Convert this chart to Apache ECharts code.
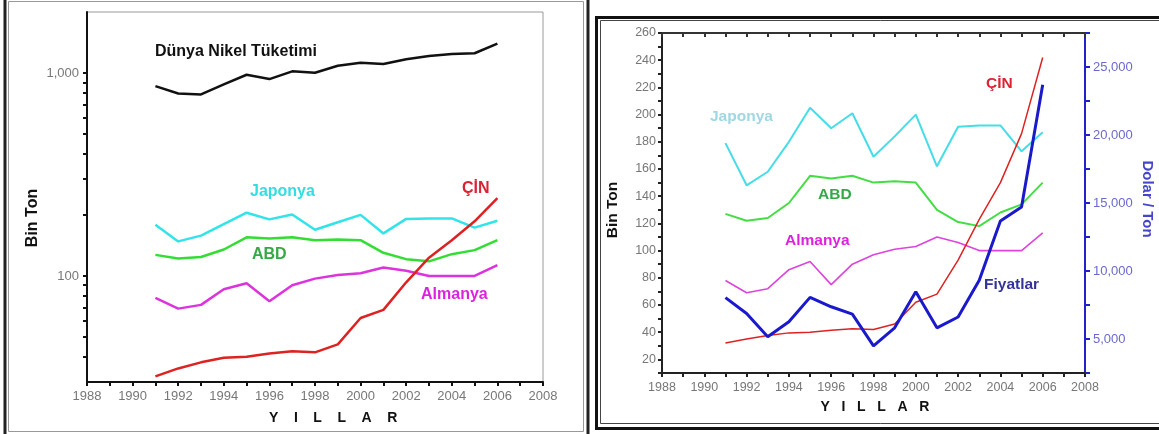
<!DOCTYPE html>
<html>
<head>
<meta charset="utf-8">
<script src="https://cdn.jsdelivr.net/npm/echarts@6/dist/echarts.min.js"></script>
<style>
html,body{margin:0;padding:0;background:#fff;}
#chart{width:1159px;height:434px;}
</style>
</head>
<body>
<div id="chart"></div>
<script>
// values (bin ton, fiyat dolar/ton)
var years   = [1991,1992,1993,1994,1995,1996,1997,1998,1999,2000,2001,2002,2003,2004,2005,2006];
var dunya   = [862,793,785,880,981,934,1020,1004,1087,1125,1108,1169,1214,1242,1252,1397];
var japonya = [179,148,158,180,205,190,201,169,184,200,162,191,192,192,173,187];
var abd     = [127,122,124,135,155,153,155,150,151,150,130,121,118,128,134,150];
var almanya = [78,69,72,86,92,75,90,97,101,103,110,106,100,100,100,113];
var cin     = [32,35,37.5,39.5,40,41.5,42.5,42,46,62,68,93,123,150,186,242];
var fiyat   = [8040,6880,5170,6270,8060,7370,6830,4500,5820,8470,5820,6620,9320,13670,14700,23700];
var logLabels = [100,1000];
var logTicks  = [40,50,60,70,80,90,100,200,300,400,500,600,700,800,900,1000];

var FONT = 'Liberation Sans, Arial, sans-serif';

function pairs(vals){
    return years.map(function(y,i){ return [y, vals[i]]; });
}
function commas(v){
    return String(v).replace(/\B(?=(\d{3})+(?!\d))/g, ',');
}
function yearLabel(v){
    return v % 2 === 0 ? String(v) : '';
}
function line(name, vals, color, width, xi, yi, z){
    return {
        name: name, type: 'line', xAxisIndex: xi, yAxisIndex: yi,
        data: pairs(vals), showSymbol: false, symbol: 'none', z: z || 2,
        lineStyle: {color: color, width: width}, color: color
    };
}
function txt(x, y, s, color, size, rot, align){
    return {
        type: 'text', x: x, y: y, rotation: rot || 0, silent: true, z: 10,
        style: {
            text: s, fill: color, fontFamily: FONT, fontWeight: 'bold',
            fontSize: size || 16, align: align || 'left', verticalAlign: 'middle'
        }
    };
}
function seg(x1, y1, x2, y2, color, w){
    return {type: 'line', silent: true, shape: {x1: x1, y1: y1, x2: x2, y2: y2},
            style: {stroke: color, lineWidth: w}};
}

var greyLabel = {color: '#777', fontSize: 13, fontFamily: FONT};

var chart = echarts.init(document.getElementById('chart'));
chart.setOption({
    animation: false,
    backgroundColor: '#fff',
    grid: [
        {left: 87, top: 12, width: 456, height: 370, show: true, borderColor: '#999', borderWidth: 1},
        {left: 662, top: 33, width: 423, height: 340}
    ],
    xAxis: [{
        gridIndex: 0, type: 'value', min: 1988, max: 2008, interval: 1,
        axisLine: {lineStyle: {color: '#111', width: 2}},
        axisTick: {length: 4, lineStyle: {color: '#111', width: 2}},
        axisLabel: Object.assign({formatter: yearLabel, margin: 8}, greyLabel),
        splitLine: {show: false}
    },{
        gridIndex: 1, type: 'value', min: 1988, max: 2008, interval: 1, position: 'bottom',
        axisLine: {lineStyle: {color: '#222', width: 2}},
        axisTick: {length: 4, lineStyle: {color: '#222', width: 2}},
        axisLabel: {formatter: yearLabel, margin: 8, color: '#777', fontSize: 12.5, fontFamily: FONT},
        splitLine: {show: false}
    },{
        gridIndex: 1, type: 'value', min: 1988, max: 2008, interval: 1, position: 'top',
        axisLine: {lineStyle: {color: '#333', width: 2}},
        axisTick: {inside: true, length: 4, lineStyle: {color: '#333', width: 2}},
        axisLabel: {show: false},
        splitLine: {show: false}
    }],
    yAxis: [{
        gridIndex: 0, type: 'log', logBase: 10, min: 30, max: 2000,
        axisLine: {lineStyle: {color: '#111', width: 2}},
        axisTick: {customValues: logTicks, length: 4, lineStyle: {color: '#111', width: 2}},
        axisLabel: Object.assign({customValues: logLabels, formatter: commas, margin: 8}, greyLabel),
        splitLine: {show: false}
    },{
        gridIndex: 1, type: 'value', min: 10, max: 260, interval: 10,
        axisLine: {lineStyle: {color: '#222', width: 2}},
        axisTick: {length: 4, lineStyle: {color: '#222', width: 2}},
        axisLabel: {formatter: function(v){ return v % 20 === 0 ? String(v) : ''; }, margin: 6,
                    color: '#777', fontSize: 12.5, fontFamily: FONT},
        splitLine: {show: false}
    },{
        gridIndex: 1, type: 'value', position: 'right', min: 2500, max: 27500, interval: 2500,
        axisLine: {lineStyle: {color: '#2222cc', width: 2}},
        axisTick: {length: 5, lineStyle: {color: '#2222cc', width: 2}},
        axisLabel: {
            formatter: function(v){ return (v % 5000 === 0 && v >= 5000) ? commas(v) : ''; },
            color: '#6a6acc', fontSize: 13, fontFamily: FONT, margin: 8
        },
        splitLine: {show: false}
    }],
    series: [
        line('Dünya Nikel Tüketimi', dunya, '#111111', 2.5, 0, 0),
        line('Japonya', japonya, '#33e3ea', 2.5, 0, 0),
        line('ABD', abd, '#33dd33', 2.5, 0, 0),
        line('Almanya', almanya, '#dd33dd', 2.5, 0, 0),
        line('ÇİN', cin, '#dd2222', 2.5, 0, 0),

        line('Japonya', japonya, '#44dde8', 2, 1, 1),
        line('ABD', abd, '#44dd44', 2, 1, 1),
        line('Almanya', almanya, '#dd44dd', 1.6, 1, 1),
        line('ÇİN', cin, '#dd2222', 1.5, 1, 1),
        line('Fiyatlar', fiyat, '#1a1acc', 3, 1, 2, 3)
    ],
    graphic: [
        // left panel frame: grey box, heavy black sides
        {type: 'rect', silent: true, shape: {x: 8.5, y: 1.5, width: 575, height: 430}, style: {fill: null, stroke: '#999', lineWidth: 1}},
        seg(5, 0, 5, 434, '#222', 3),
        seg(588, 0, 588, 434, '#222', 3),
        // right panel frame
        {type: 'rect', silent: true, shape: {x: 596.5, y: 17.5, width: 600, height: 411}, style: {fill: null, stroke: '#111', lineWidth: 3}},
        {type: 'rect', silent: true, shape: {x: 600.5, y: 20.5, width: 600, height: 403}, style: {fill: null, stroke: '#444', lineWidth: 1}},

        // left panel texts
        txt(155, 52, 'Dünya Nikel Tüketimi', '#111'),
        txt(250, 192, 'Japonya', '#33dde0'),
        txt(462, 189, 'ÇİN', '#dd2233'),
        txt(252, 255, 'ABD', '#33aa44'),
        txt(421, 295, 'Almanya', '#dd22dd'),
        txt(33, 218, 'Bin Ton', '#111', 16, Math.PI / 2, 'center'),
        txt(269, 418, 'Y    I    L    L    A    R', '#111', 14),

        // right panel texts
        txt(710, 117, 'Japonya', '#9fd8e2', 15.5),
        txt(818, 195, 'ABD', '#33aa44', 15.5),
        txt(785, 241, 'Almanya', '#dd22dd', 15.5),
        txt(986, 84, 'ÇİN', '#dd2233', 15.5),
        txt(984, 285, 'Fiyatlar', '#333399', 15.5),
        txt(613, 210, 'Bin Ton', '#111', 15.5, Math.PI / 2, 'center'),
        txt(1147, 199, 'Dolar / Ton', '#4444cc', 15, -Math.PI / 2, 'center'),
        txt(875, 407, 'Y   I   L   L   A   R', '#111', 14, 0, 'center')
    ]
});
</script>
</body>
</html>
